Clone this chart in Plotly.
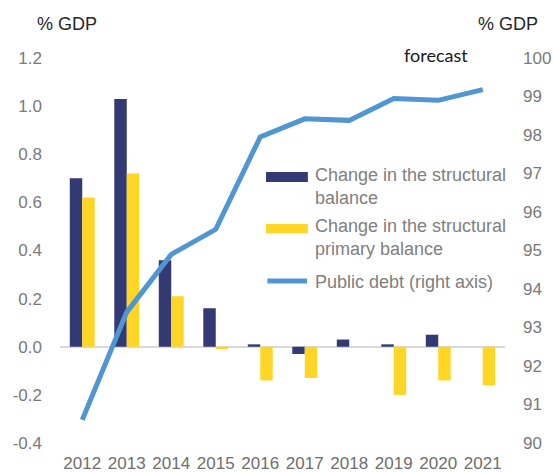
import plotly.graph_objs as go

years = ['2012', '2013', '2014', '2015', '2016', '2017', '2018', '2019', '2020', '2021']
structural_balance = [0.70, 1.03, 0.36, 0.16, 0.01, -0.03, 0.03, 0.01, 0.05, 0.00]
structural_primary_balance = [0.62, 0.72, 0.21, -0.01, -0.14, -0.13, 0.00, -0.20, -0.14, -0.16]
public_debt = [90.6, 93.4, 94.9, 95.55, 97.95, 98.42, 98.38, 98.95, 98.9, 99.18]

left_ticks = [-0.4, -0.2, 0.0, 0.2, 0.4, 0.6, 0.8, 1.0, 1.2]
right_ticks = [90, 91, 92, 93, 94, 95, 96, 97, 98, 99, 100]

navy = '#333a73'
yellow = '#ffd626'
blue = '#5096d2'
grey = '#7a7a7a'
font = 'Liberation Sans, Arial, sans-serif'

fig = go.Figure()
fig.add_trace(go.Bar(x=years, y=structural_balance, marker_color=navy, marker_line_width=0,
                     name='Change in the structural balance'))
fig.add_trace(go.Bar(x=years, y=structural_primary_balance, marker_color=yellow, marker_line_width=0,
                     name='Change in the structural primary balance'))
fig.add_trace(go.Scatter(x=years, y=public_debt, yaxis='y2', mode='lines',
                         line=dict(color=blue, width=5), name='Public debt (right axis)'))

fig.update_layout(
    width=553, height=472,
    margin=dict(l=60, r=48, t=58, b=29, autoexpand=False),
    paper_bgcolor='white', plot_bgcolor='white',
    showlegend=False,
    barmode='group', bargap=0.44, bargroupgap=0,
    font=dict(family=font, size=17, color=grey),
    xaxis=dict(showgrid=False, showline=False, ticks='', automargin=False, ticklabelstandoff=8,
               tickfont=dict(size=17, color='#6e6e6e')),
    yaxis=dict(range=[-0.4, 1.2], tickvals=left_ticks,
               ticktext=['%.1f' % v for v in left_ticks], showgrid=False, automargin=False,
               zeroline=True, zerolinecolor='#d9d9d9', zerolinewidth=2,
               ticklabelstandoff=17, tickfont=dict(size=17, color=grey)),
    yaxis2=dict(range=[90, 100], tickvals=right_ticks, overlaying='y', side='right',
                showgrid=False, zeroline=False, automargin=False, ticklabelstandoff=17,
                tickfont=dict(size=17, color=grey)),
)

# legend drawn by hand to match the wide swatches of the original
fig.add_shape(type='rect', xref='paper', yref='paper', x0=0.463, x1=0.557, y0=0.678, y1=0.704,
              fillcolor=navy, line_width=0)
fig.add_shape(type='rect', xref='paper', yref='paper', x0=0.463, x1=0.557, y0=0.545, y1=0.569,
              fillcolor=yellow, line_width=0)
fig.add_shape(type='line', xref='paper', yref='paper', x0=0.466, x1=0.555, y0=0.421, y1=0.421,
              line=dict(color=blue, width=5))

legend_text = [
    ('Change in the structural<br>balance', 0.666),
    ('Change in the structural<br>primary balance', 0.534),
    ('Public debt (right axis)', 0.419),
]
for txt, ypos in legend_text:
    fig.add_annotation(xref='paper', yref='paper', x=0.569, y=ypos, text=txt, showarrow=False,
                       xanchor='left', yanchor='middle', align='left',
                       font=dict(size=18, color='#808080', family=font))

fig.add_annotation(xref='paper', yref='paper', x=0.016, y=1.088, text='% GDP', showarrow=False,
                   xanchor='center', yanchor='middle', font=dict(size=18, color='#262626', family=font))
fig.add_annotation(xref='paper', yref='paper', x=1.006, y=1.088, text='% GDP', showarrow=False,
                   xanchor='center', yanchor='middle', font=dict(size=18, color='#262626', family=font))
fig.add_annotation(xref='paper', yref='paper', x=0.845, y=1.008, text='forecast', showarrow=False,
                   xanchor='center', yanchor='middle', font=dict(size=18, color='#1a1a1a', family='Lato'))

# the page body has a default 8px margin; drop it so the figure fills the window
fig.write_html('out.html', config={'displayModeBar': False},
               post_script="document.body.style.margin='0';")
